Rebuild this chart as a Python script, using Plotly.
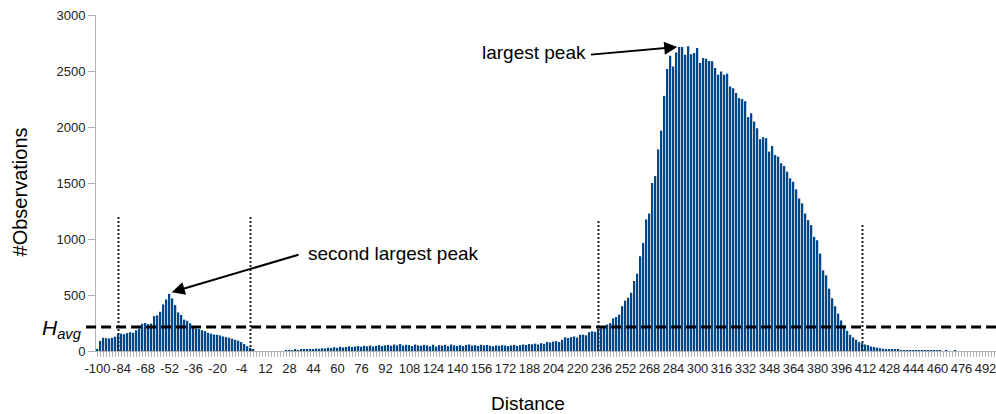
import plotly.graph_objects as go

# ---------------- data ----------------
distance = list(range(-100, 500, 2))  # category positions (step 2)

obs_left = [15, 90, 118, 115, 112, 118, 128, 150, 155, 150,
            160, 168, 162, 185, 200, 243, 250, 240, 245, 312,
            318, 350, 416, 460, 510, 470, 410, 345, 322, 280,
            270, 248, 213, 200, 196, 185, 177, 162, 154, 147,
            145, 139, 130, 124, 118, 110, 100, 92, 79, 62,
            43, 28, 10]
obs_gap = [0, 0, 0, 0, 0, 0, 0, 0, 0, 0]
obs_right = [5, 8, 6, 10, 8, 12, 10, 15, 18, 14,
             22, 20, 25, 22, 30, 26, 34, 28, 38, 32,
             36, 42, 35, 40, 44, 38, 46, 42, 48, 40,
             46, 52, 44, 50, 55, 47, 58, 50, 62, 48,
             55, 52, 45, 58, 50, 47, 55, 50, 42, 56,
             40, 52, 48, 55, 44, 58, 50, 46, 52, 44,
             55, 58, 48, 53, 45, 56, 50, 54, 47, 42,
             50, 46, 52, 48, 44, 50, 55, 46, 52, 58,
             54, 62, 60, 66, 58, 70, 64, 80, 76, 84,
             88, 80, 100, 122, 116, 124, 130, 120, 145, 146,
             140, 168, 175, 172, 200, 204, 213, 237, 249, 290,
             303, 325, 400, 450, 475, 520, 625, 690, 846, 965,
             1175, 1228, 1500, 1562, 1800, 1968, 2278, 2517, 2636, 2540,
             2666, 2714, 2714, 2645, 2720, 2650, 2660, 2705, 2571, 2616,
             2610, 2590, 2586, 2526, 2466, 2496, 2466, 2475, 2362, 2347,
             2303, 2258, 2249, 2230, 2088, 2123, 2049, 1989, 1891, 1909,
             1900, 1780, 1831, 1750, 1735, 1676, 1652, 1601, 1542, 1511,
             1443, 1362, 1318, 1228, 1168, 1124, 1019, 989, 870, 721,
             676, 557, 470, 400, 333, 273, 230, 180, 145, 120,
             100, 79, 70, 58, 52, 40, 35, 30, 24, 20,
             17, 14, 12, 10, 9, 8, 6, 7, 5, 5,
             4, 3, 4, 2, 3, 2, 1, 2, 1, 0,
             1, 0, 0, 1, 0, 0, 0, 0, 0, 0,
             0, 0, 0, 0, 0, 0, 0]
observations = obs_left + obs_gap + obs_right
assert len(observations) == len(distance), (len(observations), len(distance))

label_values = list(range(-100, 500, 16))
tick_text = [str(v) if v in label_values else "" for v in distance]

h_avg = 215
marker_x = [-86, 2, 234, 410]
marker_top = [1205, 1205, 1176, 1131]

FONT = "Liberation Sans, Arial, sans-serif"
BAR = "#004586"

fig = go.Figure()
fig.add_trace(go.Bar(x=distance, y=observations, marker=dict(color=BAR, line=dict(width=0)),
                     hoverinfo="x+y"))

shapes = []
for mx, mt in zip(marker_x, marker_top):
    shapes.append(dict(type="line", xref="x", yref="y", x0=mx, x1=mx, y0=0, y1=mt,
                       line=dict(color="#222222", width=2, dash="2px,2px"), layer="above"))
shapes.append(dict(type="line", xref="paper", yref="y", x0=-0.011, x1=1, y0=h_avg, y1=h_avg,
                   line=dict(color="black", width=3, dash="10px,5px"), layer="above"))

annotations = [
    dict(x=286.5, y=2714, ax=228, ay=2645, xref="x", yref="y", axref="x", ayref="y",
         text="", showarrow=True, arrowhead=2, arrowsize=1.3, arrowwidth=2, arrowcolor="black",
         standoff=0, startstandoff=0),
    dict(x=-50.5, y=525, ax=35, ay=864, xref="x", yref="y", axref="x", ayref="y",
         text="", showarrow=True, arrowhead=2, arrowsize=1.3, arrowwidth=2, arrowcolor="black",
         standoff=0, startstandoff=0),
    dict(x=155, y=2663, xref="x", yref="y", text="largest peak", showarrow=False,
         xanchor="left", yanchor="middle", font=dict(family=FONT, size=19, color="black")),
    dict(x=39, y=873, xref="x", yref="y", text="second largest peak", showarrow=False,
         xanchor="left", yanchor="middle", font=dict(family=FONT, size=19, color="black")),
    dict(x=-0.013, y=h_avg - 20, xref="paper", yref="y", text="<i>H<sub>avg</sub></i>",
         showarrow=False, xanchor="right", yanchor="middle",
         font=dict(family=FONT, size=21, color="black")),
    dict(x=0.48, y=-0.155, xref="paper", yref="paper", text="Distance", showarrow=False,
         xanchor="center", yanchor="middle", font=dict(family=FONT, size=19, color="black")),
    dict(x=-0.0844, y=0.472, xref="paper", yref="paper", text="#Observations", showarrow=False,
         textangle=-90, xanchor="center", yanchor="middle",
         font=dict(family=FONT, size=20, color="black")),
]

fig.update_layout(
    width=996, height=414,
    margin=dict(l=96, r=0, t=15, b=63, pad=0, autoexpand=False),
    paper_bgcolor="white", plot_bgcolor="white",
    bargap=0.5,
    showlegend=False,
    font=dict(family=FONT, size=13, color="#222222"),
    xaxis=dict(range=[-101, 499], tickmode="array", tickvals=distance, ticktext=tick_text,
               tickangle=0, automargin=False, ticklabeloverflow="allow",
               ticks="outside", ticklen=5, tickcolor="#b3b3b3", tickwidth=1,
               showline=True, linecolor="#b3b3b3", linewidth=1, showgrid=False, zeroline=False,
               tickfont=dict(family=FONT, size=13, color="#222222")),
    yaxis=dict(range=[0, 3000], tickvals=[0, 500, 1000, 1500, 2000, 2500, 3000],
               automargin=False,
               ticks="outside", ticklen=7, tickcolor="#b3b3b3", tickwidth=1,
               showline=True, linecolor="#b3b3b3", linewidth=1, showgrid=False, zeroline=False,
               tickfont=dict(family=FONT, size=13, color="#222222")),
    shapes=shapes,
    annotations=annotations,
)

fig.write_html("out.html", config={"displayModeBar": False},
               post_script="document.body.style.margin='0';document.body.style.overflow='hidden';")
